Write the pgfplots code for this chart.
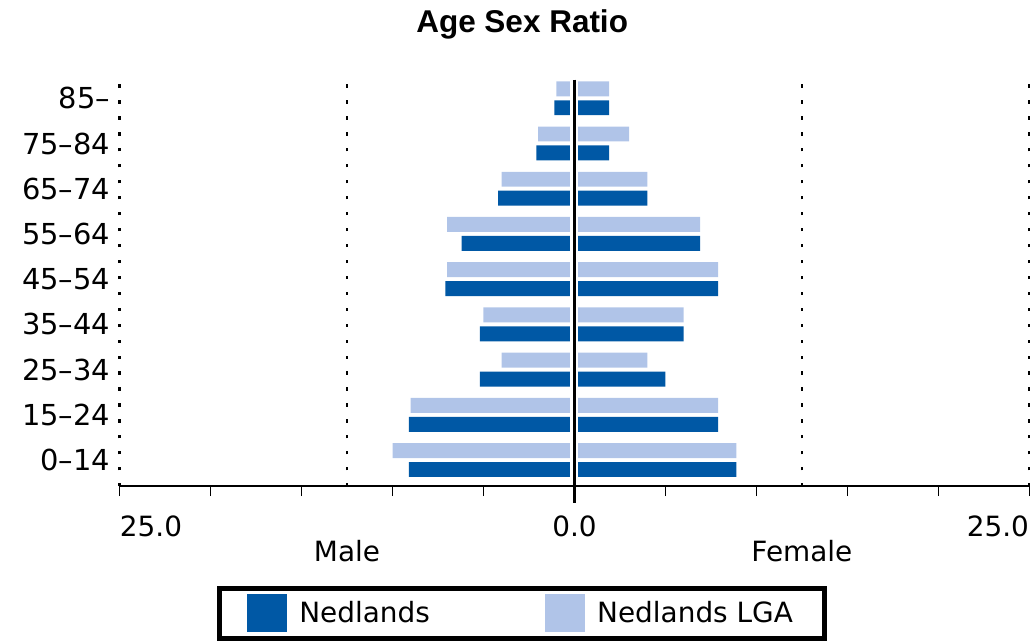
\documentclass[border=0pt]{standalone}
\usepackage{fontspec}
\setmainfont{DejaVu Sans}
\newfontfamily\titlefont{Liberation Sans}
\usepackage{pgfplots}
\usepackage{pgfplotstable}
\pgfplotsset{compat=1.18}

\definecolor{nedDark}{HTML}{0058A5}
\definecolor{nedLight}{HTML}{B0C4E8}

% y = age group index (0 = 0-14), values in % of population
\pgfplotstableread{
y  male   female
0  -9.1   8.9
1  -9.1   7.9
2  -5.2   5.0
3  -5.2   6.0
4  -7.1   7.9
5  -6.2   6.9
6  -4.2   4.0
7  -2.1   1.9
8  -1.1   1.9
}\nedlands

\pgfplotstableread{
y  male   female
0  -10.0  8.9
1  -9.0   7.9
2  -4.0   4.0
3  -5.0   6.0
4  -7.0   7.9
5  -7.0   6.9
6  -4.0   4.0
7  -2.0   3.0
8  -1.0   1.9
}\lga

\begin{document}
\begin{tikzpicture}
\begin{axis}[
  scale only axis, width=456.5pt, height=204pt,
  xmin=-25, xmax=25, ymin=-0.58, ymax=8.41,
  xbar, bar width=7.5pt,
  clip=false,
  axis x line*=bottom, axis y line*=left,
  y axis line style={draw=none},
  x axis line style={line width=1pt, -},
  xtick={-25,-20,...,25}, xticklabels={},
  tick align=outside, major tick length=5pt,
  xtick style={line width=0.8pt, black},
  ytick={0,...,8},
  yticklabels={0--14,15--24,25--34,35--44,45--54,55--64,65--74,75--84,85--},
  ytick style={draw=none},
  yticklabel style={font=\fontsize{14.5}{16}\selectfont, inner sep=0pt, xshift=0.5pt},
  extra x ticks={-25,-12.5,12.5,25}, extra x tick labels={},
  extra x tick style={xmajorgrids=true, major tick length=0pt,
    major grid style={black, line width=1.1pt, dash pattern=on 1.6pt off 6.4pt}},
  legend columns=2,
  legend style={at={(0.4425,-0.245)}, anchor=north, draw=black, line width=2.5pt,
    font=\fontsize{14}{16}\selectfont, inner xsep=14pt, inner ysep=3pt,
    /tikz/every odd column/.append style={column sep=4pt},
    /tikz/every even column/.append style={column sep=56pt}},
  legend image code/.code={\fill[#1, draw=none] (0pt,-9.5pt) rectangle (20pt,9.5pt);},
]
\addplot[fill=nedDark, draw=none, bar shift=-4.75pt] table[x=male, y=y] {\nedlands};
\addlegendentry{Nedlands}
\addplot[fill=nedDark, draw=none, bar shift=-4.75pt, forget plot] table[x=female, y=y] {\nedlands};
\addplot[fill=nedLight, draw=none, bar shift=4.75pt] table[x=male, y=y] {\lga};
\addlegendentry{Nedlands LGA}
\addplot[fill=nedLight, draw=none, bar shift=4.75pt, forget plot] table[x=female, y=y] {\lga};

% gap either side of the zero line
\fill[white] (axis cs:-0.27,-0.45) rectangle (axis cs:0.22,8.41);
\draw[line width=1.2pt] (axis cs:0,8.41) -- ([yshift=-8.5pt]axis cs:0,-0.58);

\node[anchor=base west, inner sep=0pt, font=\fontsize{14}{16}\selectfont] at ([yshift=-25pt]rel axis cs:0,0) {25.0};
\node[anchor=base, inner sep=0pt, font=\fontsize{14}{16}\selectfont] at ([yshift=-25pt]axis cs:0,-0.58) {0.0};
\node[anchor=base east, inner sep=0pt, font=\fontsize{14}{16}\selectfont] at ([yshift=-25pt]rel axis cs:1,0) {25.0};
\node[anchor=base, inner sep=0pt, font=\fontsize{14}{16}\selectfont] at ([yshift=-37.5pt]axis cs:-12.5,-0.58) {Male};
\node[anchor=base, inner sep=0pt, font=\fontsize{14}{16}\selectfont] at ([yshift=-37.5pt]axis cs:12.5,-0.58) {Female};
\node[anchor=base, inner sep=0pt, font=\titlefont\bfseries\fontsize{15.8}{18}\selectfont] at ([yshift=23.5pt]rel axis cs:0.4425,1) {Age Sex Ratio};
\end{axis}
\path[use as bounding box] (-60pt,-79pt) rectangle (458pt,244pt);
\end{tikzpicture}
\end{document}
